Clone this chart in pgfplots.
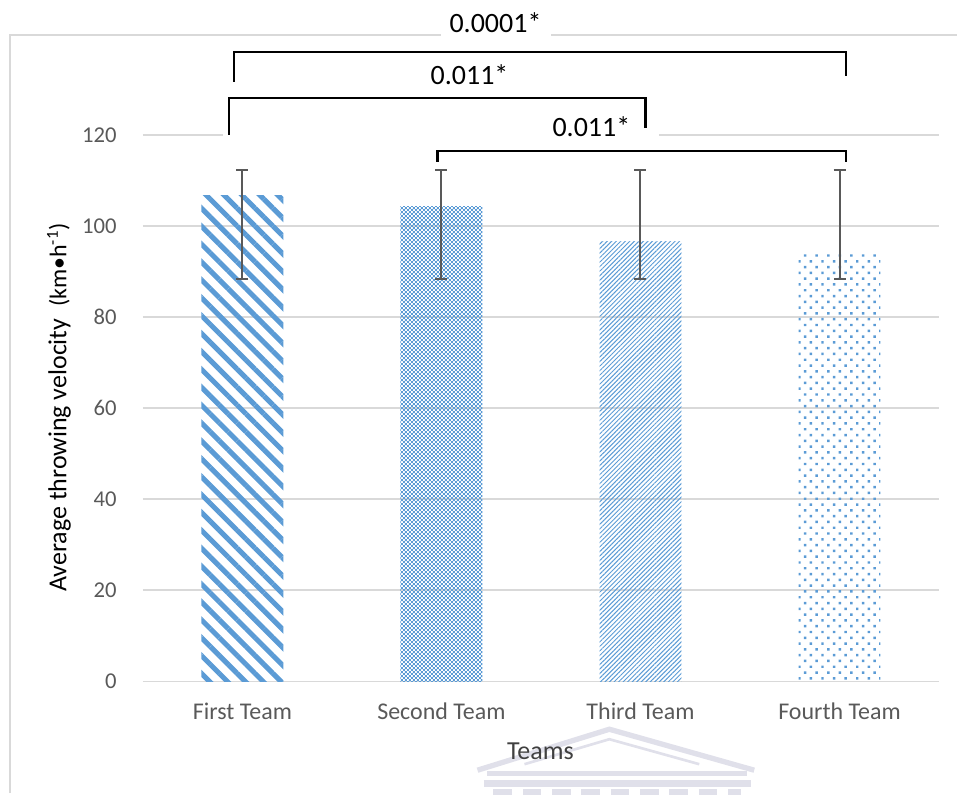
\documentclass[border=0pt]{standalone}
\usepackage{fontspec}
\setmainfont{Carlito}
\usepackage{pgfplots}
\pgfplotsset{compat=1.18}
\usetikzlibrary{patterns.meta}

\definecolor{barblue}{HTML}{5B9BD5}
\definecolor{gridgray}{HTML}{D9D9D9}
\definecolor{ticktext}{HTML}{595959}
\definecolor{errgray}{HTML}{595959}
\definecolor{wmark}{HTML}{E0E0EA}

% small checker board
\tikzdeclarepattern{
  name=checker,
  type=uncolored,
  bounding box={(0,0) and (3pt,3pt)},
  tile size={(3pt,3pt)},
  code={
    \fill (0,0) rectangle (1.5pt,1.5pt);
    \fill (1.5pt,1.5pt) rectangle (3pt,3pt);
  }
}

\begin{document}
\begin{tikzpicture}
% page = 958 x 794 px, 1px = 0.75pt, origin at plot-area corner
\begin{scope}[x=0.75pt,y=-0.75pt,shift={(-143,-682)}]
  \useasboundingbox (0,0) rectangle (958,794);
  % watermark
  \begin{scope}[wmark]
    \draw[line width=4] (478,771) -- (610,730) -- (755,771);
    \draw[line width=2] (525,765) -- (610,740) -- (700,765);
    \draw[line width=4] (488,774) -- (748,774);
    \draw[line width=5] (484,784) -- (752,784);
    \draw[line width=5,dash pattern=on 14 off 8] (494,793) -- (742,793);
  \end{scope}
\end{scope}

\begin{axis}[
  scale only axis,
  width=597.75pt, height=410.25pt,
  xmin=-0.5, xmax=3.5, ymin=0, ymax=120,
  xtick={0,1,2,3},
  xticklabels={First Team, Second Team, Third Team, Fourth Team},
  ytick={0,20,...,120},
  ymajorgrids,
  grid style={gridgray, line width=1.1pt},
  separate axis lines,
  axis x line*=bottom, axis y line*=left,
  x axis line style={gridgray, line width=1.1pt, -},
  y axis line style={draw=none},
  major tick length=0pt,
  tick style={draw=none},
  xticklabel style={font=\fontsize{18}{21}\selectfont, color=ticktext,
    anchor=base, inner sep=0pt, yshift=-28.5pt},
  yticklabel style={font=\fontsize{17}{20}\selectfont, color=ticktext,
    anchor=east, inner sep=0pt, xshift=-19.5pt},
  /pgf/number format/assume math mode=true,
  ybar, bar width=61.5pt, bar shift=0pt,
  clip=false,
  error bars/y dir=both,
  error bars/y explicit,
  error bars/error bar style={errgray, line width=1.5pt},
  error bars/error mark options={rotate=90, mark size=4.5pt, errgray, line width=1.5pt},
]
\addplot[draw=none, pattern={Lines[angle=-45, distance=9.5pt, line width=3.8pt]}, pattern color=barblue]
  coordinates {(0,106.6) += (0,5.7) -= (0,18.2)};
\addplot[draw=none, pattern=checker, pattern color=barblue]
  coordinates {(1,104.3) += (0,8.0) -= (0,15.9)};
\addplot[draw=none, pattern={Lines[angle=45, distance=2.4pt, line width=0.75pt]}, pattern color=barblue]
  coordinates {(2,96.6) += (0,15.7) -= (0,8.2)};
\addplot[draw=none, pattern={Dots[angle=45, distance=6.15pt, radius=1.3pt]}, pattern color=barblue]
  coordinates {(3,94.2) += (0,18.1) -= (0,5.8)};
\end{axis}

\begin{scope}[x=0.75pt,y=-0.75pt,shift={(-143,-682)}]
  % chart frame with gap for top label
  \draw[gridgray, line width=1.5] (10,794) -- (10,35) -- (441,35);
  \draw[gridgray, line width=1.5] (552,35) -- (958,35);
  % white cover over 120 gridline
  \fill[white] (223,130) rectangle (660,140);
  % significance brackets
  \draw[black, line width=1.8pt] (234,82) -- (234,52) -- (847,52) -- (847,76);
  \draw[black, line width=1.8pt] (229,135) -- (229,98) -- (646,98) -- (646,128);
  \draw[black, line width=1.8pt] (438,162) -- (438,151) -- (847,151) -- (847,162);
  \node[font=\fontsize{21}{24}\selectfont] at (496,23) {0.0001*};
  \node[font=\fontsize{21}{24}\selectfont] at (470,75) {0.011*};
  \node[font=\fontsize{21}{24}\selectfont] at (592,127) {0.011*};
  % axis titles
  \node[font=\fontsize{19.5}{22}\selectfont, color=black!75] at (541,752) {Teams};
  \node[rotate=90, font=\fontsize{19.5}{22}\selectfont] at (59,408)
    {Average throwing velocity~~{\fontsize{18}{21}\selectfont(km•h\textsuperscript{-1})}};
\end{scope}
\end{tikzpicture}
\end{document}
